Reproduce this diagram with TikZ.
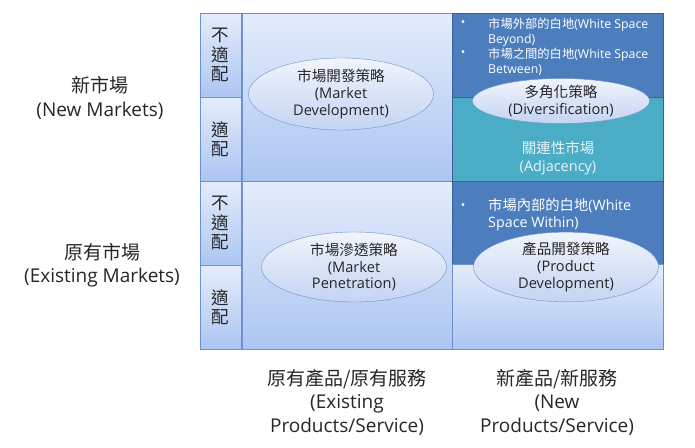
\documentclass[tikz,border=0pt]{standalone}
\usepackage{fontspec}
\setmainfont{Open Sans}
\newfontfamily\cjk{Noto Sans CJK TC}
\usetikzlibrary{shapes.geometric, positioning}

\definecolor{frameblue}{RGB}{110,145,205}
\definecolor{celltop}{RGB}{228,236,251}
\definecolor{cellbot}{RGB}{172,198,242}
\definecolor{darkblue}{RGB}{76,126,190}
\definecolor{darkedge}{RGB}{55,96,156}
\definecolor{tealcell}{RGB}{75,172,198}
\definecolor{ovaltop}{RGB}{240,244,252}
\definecolor{ovalbot}{RGB}{196,212,242}
\definecolor{inktext}{RGB}{38,38,38}
\definecolor{palettext}{RGB}{232,244,250}

\tikzset{
  cell/.style={draw=frameblue, top color=celltop, bottom color=cellbot, anchor=north west, inner sep=0pt},
  sidecell/.style={cell, minimum width=41pt, text=inktext, align=center, font=\cjk\fontsize{17.5}{19.5}\selectfont},
  darkcell/.style={draw=darkedge, fill=darkblue, anchor=north west, inner sep=0pt},
  tealbox/.style={draw=darkedge, fill=tealcell, anchor=north west, inner sep=0pt},
  strategy/.style={ellipse, draw=frameblue, top color=ovaltop, bottom color=ovalbot, inner sep=0pt,
    align=center, text=inktext, font=\fontsize{14.6}{16.7}\selectfont},
  axislabel/.style={align=center, text=inktext, font=\fontsize{19}{23.5}\selectfont},
  whitespace/.style={anchor=north west, align=left, text=white, inner sep=0pt},
  dot/.style={text=white, inner sep=0pt, font=\fontsize{12}{12}\selectfont},
}

\begin{document}
\begin{tikzpicture}[x=1pt, y=-1pt]
  \useasboundingbox (0,0) rectangle (695,447);

  % fit / no fit column
  \node[sidecell, minimum height=84pt] (newnofit) at (200,13) {不\\適\\配};
  \node[sidecell, minimum height=84pt] (newfit) at (200,97) {適\\配};
  \node[sidecell, minimum height=84pt] (oldnofit) at (200,181) {不\\適\\配};
  \node[sidecell, minimum height=84pt] (oldfit) at (200,265) {適\\配};

  % matrix cells
  \node[cell, minimum width=210pt, minimum height=168pt] (devcell) at (242,13) {};
  \node[cell, minimum width=210pt, minimum height=168pt] (pencell) at (242,181) {};
  \node[darkcell, minimum width=211pt, minimum height=84pt] (beyond) at (452,13) {};
  \node[tealbox, minimum width=211pt, minimum height=84pt] (adjacent) at (452,97) {};
  \node[darkcell, minimum width=211pt, minimum height=83pt] (within) at (452,181) {};
  \node[cell, minimum width=211pt, minimum height=85pt] (prodcell) at (452,264) {};

  % white space notes
  \node[dot] (dota) at (463,24) {\textbullet};
  \node[whitespace, font=\fontsize{12.3}{15}\selectfont] (beyondtxt) at (488,18) {{\cjk 市場外部的白地}(White Space\\Beyond)};
  \node[dot] (dotb) at (463,54) {\textbullet};
  \node[whitespace, font=\fontsize{12.3}{15}\selectfont] (betweentxt) at (488,48) {{\cjk 市場之間的白地}(White Space\\Between)};
  \node[dot] (dotc) at (463,207) {\textbullet};
  \node[whitespace, font=\fontsize{14.3}{17.5}\selectfont] (withintxt) at (488,198) {{\cjk 市場內部的白地}(White\\Space Within)};
  \node[align=center, text=palettext, font=\fontsize{14.5}{18}\selectfont] (adjtxt) at (558,158) {{\cjk 關連性市場}\\(Adjacency)};

  % strategies
  \node[strategy, minimum width=185pt, minimum height=72pt] (mktdev) at (341,94) {{\cjk 市場開發策略}\\(Market\\Development)};
  \node[strategy, minimum width=185pt, minimum height=70pt] (mktpen) at (354,267) {{\cjk 市場滲透策略}\\(Market\\Penetration)};
  \node[strategy, minimum width=177pt, minimum height=45pt] (divers) at (561,101) {{\cjk 多角化策略}\\(Diversification)};
  \node[strategy, minimum width=185pt, minimum height=67pt] (proddev) at (566,267) {{\cjk 產品開發策略}\\(Product\\Development)};

  % axes
  \node[axislabel] (newmkt) at (100,98) {{\cjk 新市場}\\(New Markets)};
  \node[axislabel] (oldmkt) at (102,265) {{\cjk 原有市場}\\(Existing Markets)};
  \node[axislabel] (oldprod) at (347,402) {{\cjk 原有產品/原有服務}\\(Existing\\Products/Service)};
  \node[axislabel] (newprod) at (557,402) {{\cjk 新產品/新服務}\\(New\\Products/Service)};
\end{tikzpicture}
\end{document}
